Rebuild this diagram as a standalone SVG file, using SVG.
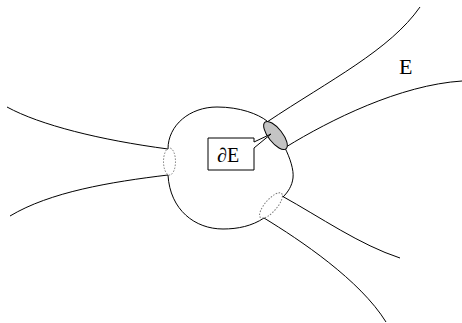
<svg xmlns="http://www.w3.org/2000/svg" width="462" height="323" viewBox="0 0 462 323">
  <style>
    .line { fill: none; stroke: #000; stroke-width: 1; }
    .hidden-rim { fill: none; stroke: #777; stroke-width: 1; stroke-dasharray: 1.5 1.5; }
    .open-rim { fill: #c4c4c4; stroke: #000; stroke-width: 1; }
    .label { font-family: "Liberation Serif", "Times New Roman", serif; fill: #000; }
  </style>
  <rect width="462" height="323" fill="#fff"/>

  <!-- central body, broken where the three ends attach -->
  <g id="body">
    <path class="line" d="M168,149 C168,125 190,107 217,107 C240,107 258,114 267,121"/>
    <path class="line" d="M285,148 C290,158 294,170 293,178 C292,186 288,192 283,197"/>
    <path class="line" d="M264,218 C252,226 238,229 223,229 C195,229 170,210 168,175"/>
  </g>

  <!-- the three ends -->
  <g id="end-left">
    <path class="line" d="M7,107 C40,125 100,140 168,149"/>
    <path class="line" d="M10,216 C50,192 110,182 168,175"/>
    <ellipse class="hidden-rim" cx="169.5" cy="161.5" rx="6" ry="13.5"/>
  </g>

  <g id="end-upper">
    <path class="line" d="M267,122 C330,80 390,50 420,7"/>
    <path class="line" d="M286,147 C330,120 400,85 462,81"/>
    <ellipse class="open-rim" cx="275.5" cy="135.5" rx="17" ry="7" transform="rotate(52 275.5 135.5)"/>
    <text class="label" x="399" y="74" font-size="22">E</text>
  </g>

  <g id="end-lower">
    <path class="line" d="M282,196 C320,217 360,245 400,258"/>
    <path class="line" d="M264,218 C300,240 360,280 386,322"/>
    <ellipse class="hidden-rim" cx="271" cy="205.5" rx="16" ry="6" transform="rotate(-49 271 205.5)"/>
  </g>

  <!-- callout box naming the boundary -->
  <g id="boundary-label">
    <path fill="#fff" stroke="#000" stroke-width="1" d="M208,138 H254 V142 L271,134 L254,148 V170 H208 Z"/>
    <text class="label" x="217" y="162" font-size="20">∂E</text>
  </g>
</svg>
